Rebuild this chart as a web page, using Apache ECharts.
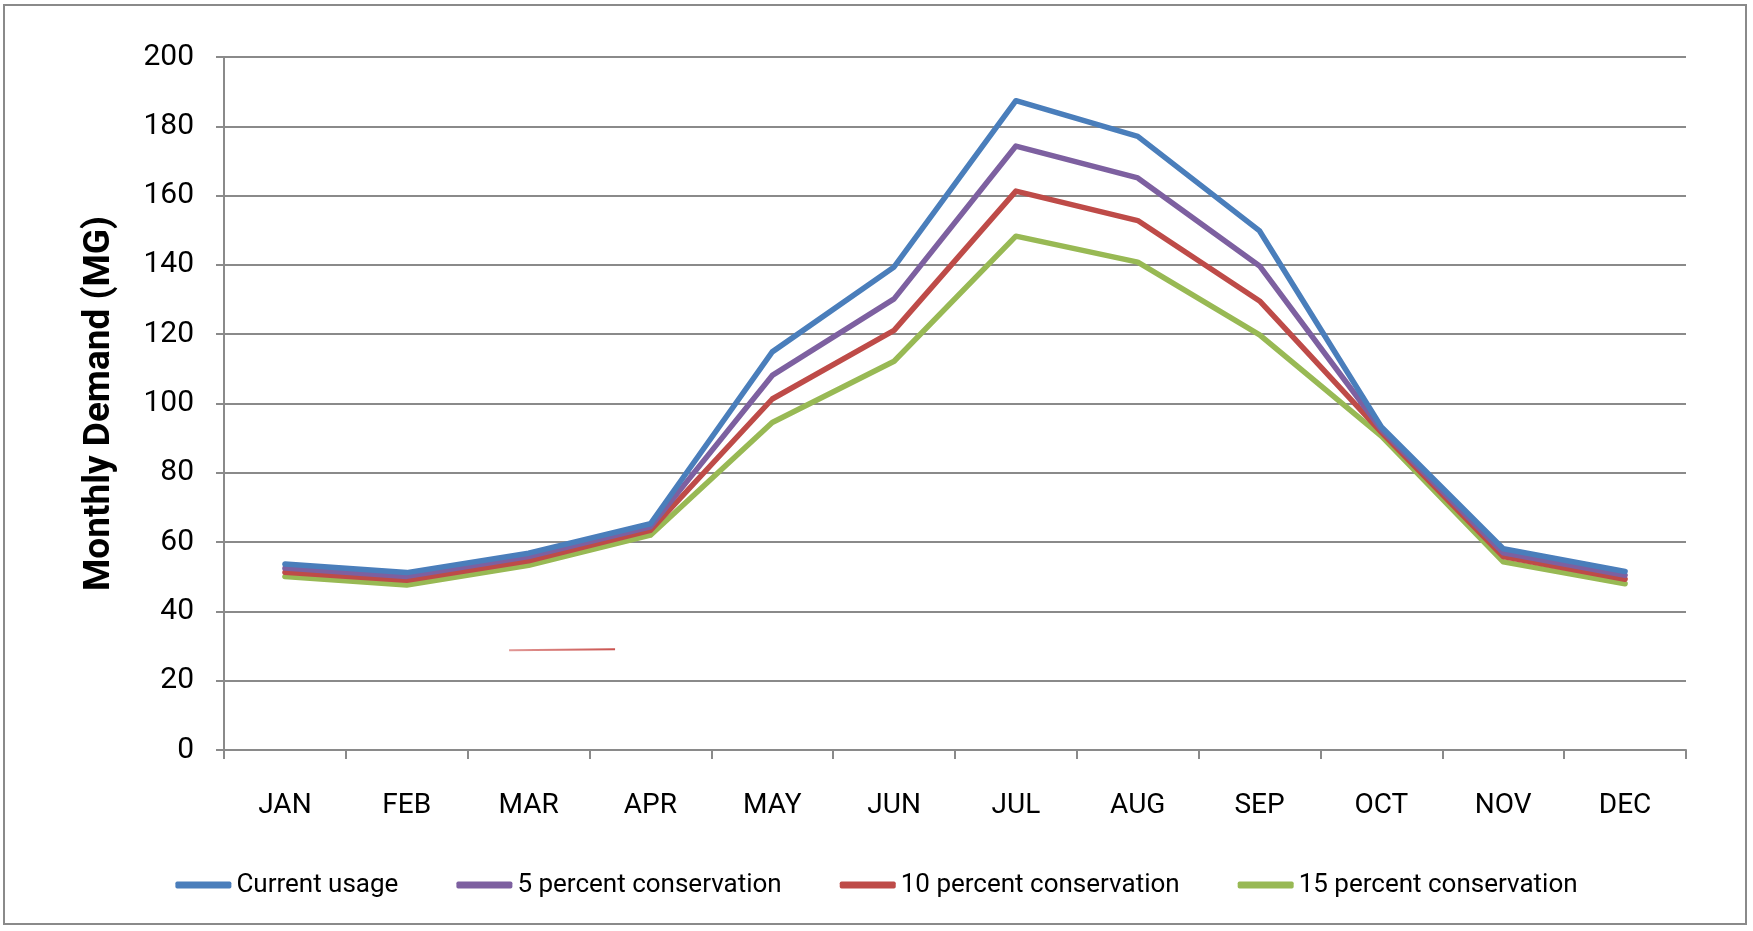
<!DOCTYPE html>
<html>
<head>
<meta charset="utf-8">
<title>Monthly Demand</title>
<script src="https://cdn.jsdelivr.net/npm/echarts@6/dist/echarts.min.js"></script>
<style>
  html, body { margin: 0; padding: 0; background: #fff; }
  #frame {
    position: absolute; left: 3px; top: 4px; width: 1744px; height: 921px;
    border: 2px solid #8a8a8a; box-sizing: border-box;
  }
  #chart { position: absolute; left: 0; top: 0; width: 1753px; height: 931px; }
</style>
</head>
<body>
<div id="frame"></div>
<div id="chart"></div>
<script>
// Months along the category axis
const months = ['JAN', 'FEB', 'MAR', 'APR', 'MAY', 'JUN', 'JUL', 'AUG', 'SEP', 'OCT', 'NOV', 'DEC'];

// Monthly demand in million gallons for each scenario
const currentUsage   = [53.7, 51.2, 56.8, 65.3, 114.9, 139.4, 187.4, 177.1, 149.8, 93.2, 58.1, 51.5];
const conserve5      = [52.5, 50.1, 55.8, 64.4, 108.1, 130.2, 174.3, 165.1, 139.7, 92.5, 56.9, 50.4];
const conserve10     = [51.3, 49.0, 54.6, 63.4, 101.3, 121.1, 161.3, 152.8, 129.6, 91.7, 55.8, 49.3];
const conserve15     = [50.1, 47.6, 53.3, 62.0,  94.5, 112.2, 148.3, 140.8, 119.8, 90.6, 54.3, 48.0];

// Series names shown in the legend
const seriesNames = ['Current usage', '5 percent conservation', '10 percent conservation', '15 percent conservation'];

// Small stray stroke inside the plot: [month index, demand]
const strayStroke = [[1.84, 28.8], [2.71, 29.1]];

const colors = ['#4a7ebb', '#7d60a0', '#be4b48', '#98b954'];
const font = 'Roboto, "Open Sans", "Noto Sans", sans-serif';
const gridGray = '#8a8a8a';

const chart = echarts.init(document.getElementById('chart'), null, { renderer: 'canvas' });

const lineSeries = [currentUsage, conserve5, conserve10, conserve15].map((vals, i) => ({
  name: seriesNames[i],
  type: 'line',
  data: vals,
  symbol: 'none',
  lineStyle: { width: 5.5, color: colors[i], cap: 'round', join: 'round' },
  itemStyle: { color: colors[i] },
  z: 10 - i,
  animation: false
}));

chart.setOption({
  backgroundColor: 'transparent',
  animation: false,
  textStyle: { fontFamily: font },
  color: colors,
  grid: { left: 224, right: 67, top: 57, bottom: 181, containLabel: false },
  legend: {
    data: seriesNames,
    bottom: 28,
    left: 'center',
    itemWidth: 56,
    itemHeight: 7,
    itemGap: 58,
    icon: 'roundRect',
    textStyle: { fontFamily: font, fontSize: 26, color: '#000' }
  },
  xAxis: [{
    type: 'category',
    data: months,
    boundaryGap: true,
    axisLine: { lineStyle: { color: gridGray, width: 2 } },
    axisTick: { show: true, alignWithLabel: false, length: 9, lineStyle: { color: gridGray, width: 2 } },
    axisLabel: { color: '#000', fontSize: 28, fontFamily: font, margin: 42, interval: 0 },
    splitLine: { show: false }
  }, {
    // hidden numeric twin of the month axis (month index), used for the stray stroke
    type: 'value',
    min: -0.5,
    max: 11.5,
    show: false
  }],
  yAxis: {
    type: 'value',
    min: 0,
    max: 200,
    interval: 20,
    name: 'Monthly Demand (MG)',
    nameLocation: 'middle',
    nameGap: 106,
    nameRotate: 90,
    nameTextStyle: { fontFamily: font, fontSize: 37, fontWeight: 'bold', color: '#000' },
    axisLine: { show: true, onZero: false, lineStyle: { color: gridGray, width: 2 } },
    axisTick: { show: true, length: 8, lineStyle: { color: gridGray, width: 2 } },
    axisLabel: { color: '#000', fontSize: 30, fontFamily: font, margin: 30 },
    splitLine: { show: true, lineStyle: { color: gridGray, width: 2 } }
  },
  series: lineSeries.concat([{
    name: 'stray',
    type: 'line',
    xAxisIndex: 1,
    data: strayStroke,
    symbol: 'none',
    lineStyle: {
      width: 2,
      color: new echarts.graphic.LinearGradient(0, 0, 1, 0, [
        { offset: 0, color: '#e29a98' },
        { offset: 1, color: '#c9514d' }
      ])
    },
    z: 2,
    silent: true
  }])
});
</script>
</body>
</html>
